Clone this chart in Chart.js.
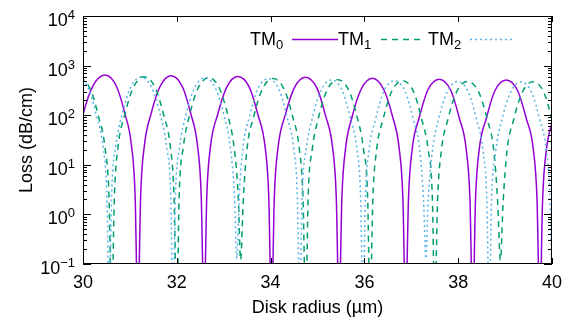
<!DOCTYPE html>
<html>
<head>
<meta charset="utf-8">
<script src="https://cdn.jsdelivr.net/npm/chart.js@4.4.1/dist/chart.umd.min.js"></script>
<style>
  html, body { margin: 0; padding: 0; background: #fff; }
</style>
</head>
<body>
<canvas id="lossChart" width="574" height="322"></canvas>
<script>
// values (disk radius in um, loss in dB/cm)
const tm0X = [
  29.74, 29.80, 29.88, 30.01, 30.21, 30.47, 30.71, 30.89, 31.03, 31.11,
  31.17, 31.23, 31.31, 31.45, 31.64, 31.875, 32.12, 32.30, 32.44, 32.52,
  32.58, 32.64, 32.72, 32.87, 33.06, 33.30, 33.55, 33.73, 33.88, 33.96,
  34.02, 34.08, 34.16, 34.31, 34.50, 34.74, 34.99, 35.17, 35.32, 35.40,
  35.46, 35.52, 35.60, 35.74, 35.93, 36.17, 36.41, 36.60, 36.74, 36.82,
  36.88, 36.94, 37.02, 37.17, 37.35, 37.595, 37.84, 38.02, 38.17, 38.25,
  38.31, 38.37, 38.45, 38.60, 38.78, 39.025, 39.27, 39.45, 39.60, 39.68,
  39.74, 39.80, 39.88, 40.03, 40.21
];
const tm0Y = [
  0.01, 2.6, 26, 110, 387, 645, 387, 110, 26, 2.6,
  0.01, 2.5, 25, 106, 375, 625, 375, 106, 25, 2.5,
  0.01, 2.4, 24, 102, 360, 600, 360, 102, 24, 2.4,
  0.01, 2.3, 23, 99, 348, 580, 348, 99, 23, 2.3,
  0.01, 2.2, 22, 94, 333, 555, 333, 94, 22, 2.2,
  0.01, 2.1, 21, 90, 318, 530, 318, 90, 21, 2.1,
  0.01, 2.1, 21, 87, 308, 513, 308, 87, 21, 2.1,
  0.01, 2.0, 20, 85, 300
];

const tm1X = [
  29.23, 29.285, 29.37, 29.51, 29.685, 29.92, 30.155, 30.33, 30.47, 30.555,
  30.61, 30.67, 30.75, 30.89, 31.07, 31.305, 31.54, 31.72, 31.86, 31.94,
  32.00, 32.05, 32.14, 32.27, 32.45, 32.68, 32.91, 33.09, 33.22, 33.31,
  33.36, 33.42, 33.50, 33.64, 33.82, 34.055, 34.29, 34.47, 34.61, 34.69,
  34.75, 34.80, 34.89, 35.02, 35.20, 35.435, 35.67, 35.85, 35.98, 36.07,
  36.12, 36.18, 36.26, 36.40, 36.58, 36.81, 37.05, 37.22, 37.36, 37.45,
  37.50, 37.56, 37.64, 37.78, 37.96, 38.20, 38.44, 38.62, 38.76, 38.84,
  38.90, 38.96, 39.04, 39.18, 39.36, 39.59, 39.83, 40.00, 40.14, 40.23, 40.28
];
const tm1Y = [
  0.01, 2.2, 22, 95, 336, 560, 336, 95, 22, 2.2,
  0.01, 2.4, 24, 101, 357, 595, 357, 101, 24, 2.4,
  0.01, 2.3, 23, 98, 345, 575, 345, 98, 23, 2.3,
  0.12, 2.2, 22, 94, 330, 550, 330, 94, 22, 2.2,
  0.01, 2.1, 21, 88, 312, 520, 312, 88, 21, 2.1,
  0.01, 2.0, 20, 84, 297, 495, 297, 84, 20, 2.0,
  0.01, 1.9, 19, 82, 288, 480, 288, 82, 19, 1.9,
  0.12, 1.9, 19, 80, 282, 470, 282, 80, 19, 1.9, 0.01
];

const tm2X = [
  29.21, 29.26, 29.35, 29.48, 29.66, 29.885, 30.12, 30.29, 30.43, 30.51,
  30.56, 30.61, 30.70, 30.83, 31.01, 31.24, 31.47, 31.65, 31.78, 31.87,
  31.92, 31.97, 32.06, 32.19, 32.37, 32.60, 32.83, 33.01, 33.14, 33.23,
  33.28, 33.33, 33.41, 33.55, 33.72, 33.95, 34.18, 34.35, 34.49, 34.57,
  34.62, 34.67, 34.76, 34.89, 35.07, 35.295, 35.53, 35.70, 35.84, 35.92,
  35.97, 36.02, 36.10, 36.24, 36.41, 36.64, 36.87, 37.04, 37.18, 37.26,
  37.31, 37.36, 37.45, 37.58, 37.76, 37.985, 38.22, 38.39, 38.53, 38.61,
  38.66, 38.71, 38.80, 38.93, 39.11, 39.335, 39.57, 39.74, 39.88, 39.96, 40.01
];
const tm2Y = [
  0.01, 2.2, 22, 95, 336, 560, 336, 95, 22, 2.2,
  0.01, 2.4, 24, 100, 354, 590, 354, 100, 24, 2.4,
  0.01, 2.3, 23, 97, 342, 570, 342, 97, 23, 2.3,
  0.13, 2.2, 22, 93, 327, 545, 327, 93, 22, 2.2,
  0.01, 2.1, 21, 88, 309, 515, 309, 88, 21, 2.1,
  0.01, 2.0, 20, 84, 297, 495, 297, 84, 20, 2.0,
  0.13, 1.9, 19, 82, 288, 480, 288, 82, 19, 1.9,
  0.01, 1.9, 19, 80, 282, 470, 282, 80, 19, 1.9, 0.01
];

const seriesNames = ['TM0', 'TM1', 'TM2'];
const xTickValues = [30, 32, 34, 36, 38, 40];
const yExponents = [-1, 0, 1, 2, 3, 4];

const FONT = "'Liberation Sans', Arial, sans-serif";
const colors = ['#9400d3', '#009e73', '#56b4e9'];
const dashes = [[], [6, 5], [2, 3]];

function toPoints(xs, ys) {
  return xs.map((x, i) => ({ x: x, y: ys[i] }));
}

// gnuplot style frame, inward ticks, 10^n labels and the key
const gnuplotLook = {
  id: 'gnuplotLook',
  afterDatasetsDraw(chart) {
    const ctx = chart.ctx;
    const a = chart.chartArea;
    const xs = chart.scales.x;
    const ys = chart.scales.y;
    ctx.save();
    ctx.strokeStyle = '#000';
    ctx.lineWidth = 1;
    ctx.setLineDash([]);
    ctx.strokeRect(a.left + 0.5, a.top + 0.5, a.right - a.left - 1, a.bottom - a.top - 1);

    ctx.beginPath();
    yExponents.forEach(e => {
      const y = Math.round(ys.getPixelForValue(Math.pow(10, e))) + 0.5;
      ctx.moveTo(a.left, y); ctx.lineTo(a.left + 8, y);
      ctx.moveTo(a.right, y); ctx.lineTo(a.right - 8, y);
      if (e < 4) {
        for (let m = 2; m <= 9; m++) {
          const ym = Math.round(ys.getPixelForValue(m * Math.pow(10, e))) + 0.5;
          ctx.moveTo(a.left, ym); ctx.lineTo(a.left + 4, ym);
          ctx.moveTo(a.right, ym); ctx.lineTo(a.right - 4, ym);
        }
      }
    });
    xTickValues.forEach(v => {
      const x = Math.round(xs.getPixelForValue(v)) + 0.5;
      ctx.moveTo(x, a.bottom); ctx.lineTo(x, a.bottom - 6);
      ctx.moveTo(x, a.top); ctx.lineTo(x, a.top + 6);
    });
    ctx.stroke();

    // y tick labels with superscript exponents
    ctx.fillStyle = '#000';
    ctx.textBaseline = 'alphabetic';
    yExponents.forEach(e => {
      const y = ys.getPixelForValue(Math.pow(10, e));
      const sup = e < 0 ? '\u2212' + Math.abs(e) : String(e);
      ctx.font = '13px ' + FONT;
      const supW = ctx.measureText(sup).width;
      ctx.textAlign = 'left';
      ctx.fillText(sup, 75 - supW, y + 3);
      ctx.font = '18px ' + FONT;
      ctx.textAlign = 'right';
      ctx.fillText('10', 75 - supW, y + 10);
    });

    // key: label first, then the line sample
    const keyText = [250, 338, 428];
    const keyLine = [[292, 338], [381, 421], [470, 515]];
    seriesNames.forEach((name, i) => {
      ctx.textAlign = 'left';
      ctx.font = '18px ' + FONT;
      const base = name.slice(0, -1);
      ctx.fillText(base, keyText[i], 45);
      const w = ctx.measureText(base).width;
      ctx.font = '13px ' + FONT;
      ctx.fillText(name.slice(-1), keyText[i] + w, 49);
      ctx.beginPath();
      ctx.strokeStyle = colors[i];
      ctx.lineWidth = 1.5;
      ctx.setLineDash(dashes[i]);
      ctx.moveTo(keyLine[i][0], 39.5);
      ctx.lineTo(keyLine[i][1], 39.5);
      ctx.stroke();
    });
    ctx.restore();
  }
};

const allX = [tm0X, tm1X, tm2X];
const allY = [tm0Y, tm1Y, tm2Y];

const datasets = seriesNames.map((name, i) => ({
  label: name,
  data: toPoints(allX[i], allY[i]),
  borderColor: colors[i],
  borderWidth: 1.5,
  borderDash: dashes[i],
  pointRadius: 0,
  fill: false,
  cubicInterpolationMode: 'monotone',
  order: 2 - i
}));

new Chart(document.getElementById('lossChart'), {
  type: 'line',
  data: { datasets: datasets },
  options: {
    responsive: false,
    animation: false,
    layout: { padding: { top: 16, right: 22, left: 0, bottom: 0 } },
    plugins: { legend: { display: false }, tooltip: { enabled: false } },
    scales: {
      x: {
        type: 'linear',
        min: 30,
        max: 40,
        afterBuildTicks(scale) { scale.ticks = xTickValues.map(v => ({ value: v })); },
        afterFit(scale) { scale.height = 58; },
        grid: { display: false, drawTicks: false },
        border: { display: false },
        ticks: { color: '#000', font: { family: FONT, size: 18 }, padding: 8 },
        title: {
          display: true,
          text: 'Disk radius (\u00b5m)',
          color: '#000',
          font: { family: FONT, size: 18 },
          padding: { top: 0, bottom: 3 }
        }
      },
      y: {
        type: 'logarithmic',
        min: 0.1,
        max: 10000,
        afterFit(scale) { scale.width = 83; },
        grid: { display: false, drawTicks: false },
        border: { display: false },
        ticks: { display: false },
        title: {
          display: true,
          text: 'Loss (dB/cm)',
          color: '#000',
          font: { family: FONT, size: 18 },
          padding: { top: 16, bottom: 0 }
        }
      }
    }
  },
  plugins: [gnuplotLook]
});
</script>
</body>
</html>
